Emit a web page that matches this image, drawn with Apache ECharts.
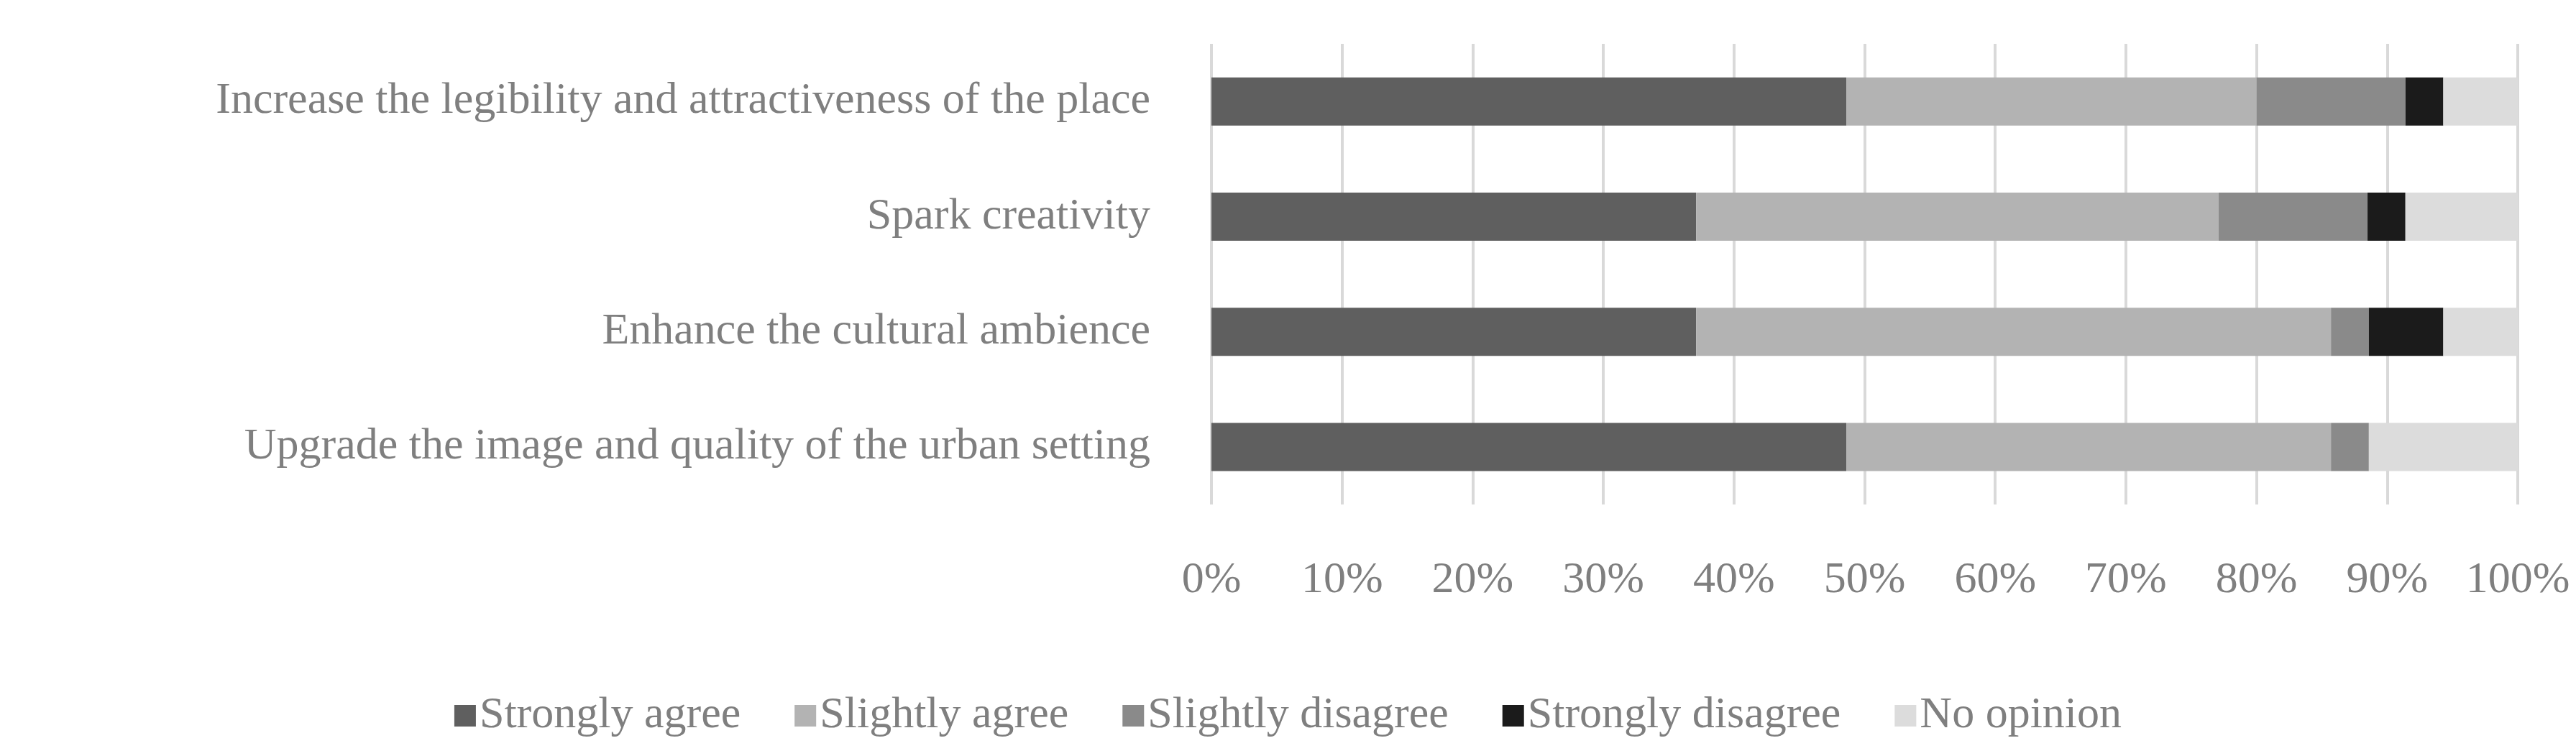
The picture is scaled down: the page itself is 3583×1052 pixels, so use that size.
<!DOCTYPE html>
<html><head><meta charset="utf-8">
<script src="https://cdn.jsdelivr.net/npm/echarts@6/dist/echarts.min.js"></script>
<style>html,body{margin:0;padding:0;background:#fff}#c{width:3583px;height:1052px}</style>
</head><body><div id="c"></div>
<script>
const categories = ["Upgrade the image and quality of the urban setting","Enhance the cultural ambience","Spark creativity","Increase the legibility and attractiveness of the place"];
const seriesNames = ["Strongly agree","Slightly agree","Slightly disagree","Strongly disagree","No opinion"];
const stronglyAgree = [48.6, 37.1, 37.1, 48.6];
const slightlyAgree = [37.1, 48.6, 40.0, 31.4];
const slightlyDisagree = [2.9, 2.9, 11.4, 11.4];
const stronglyDisagree = [0, 5.7, 2.9, 2.9];
const noOpinion = [11.4, 5.7, 8.6, 5.7];
const colors = ["#5f5f5f","#b3b3b3","#8a8a8a","#1b1b1b","#dcdcdc"];
const values = [stronglyAgree, slightlyAgree, slightlyDisagree, stronglyDisagree, noOpinion];
const font = "Liberation Serif";
const chart = echarts.init(document.getElementById('c'));
chart.setOption({
  animation:false,
  textStyle:{fontFamily:font},
  grid:{left:1685,right:81,top:61,bottom:350},
  legend:{bottom:20,left:'center',itemWidth:30,itemHeight:30,itemGap:75,icon:'rect',
    textStyle:{fontFamily:font,fontSize:62,color:'#7f7f7f'},data:seriesNames},
  xAxis:{type:'value',min:0,max:100,interval:10,
    axisLabel:{formatter:'{value}%',fontFamily:font,fontSize:62,color:'#7f7f7f',margin:75},
    axisLine:{show:false},axisTick:{show:false},
    splitLine:{lineStyle:{color:'#d9d9d9',width:4}}},
  yAxis:{type:'category',data:categories,
    axisLabel:{fontFamily:font,fontSize:62,color:'#7f7f7f',margin:85},
    axisLine:{show:false},axisTick:{show:false}},
  series: seriesNames.map((n,i)=>({name:n,type:'bar',stack:'all',barWidth:67,
    itemStyle:{color:colors[i]},data:values[i]}))
});
</script></body></html>
